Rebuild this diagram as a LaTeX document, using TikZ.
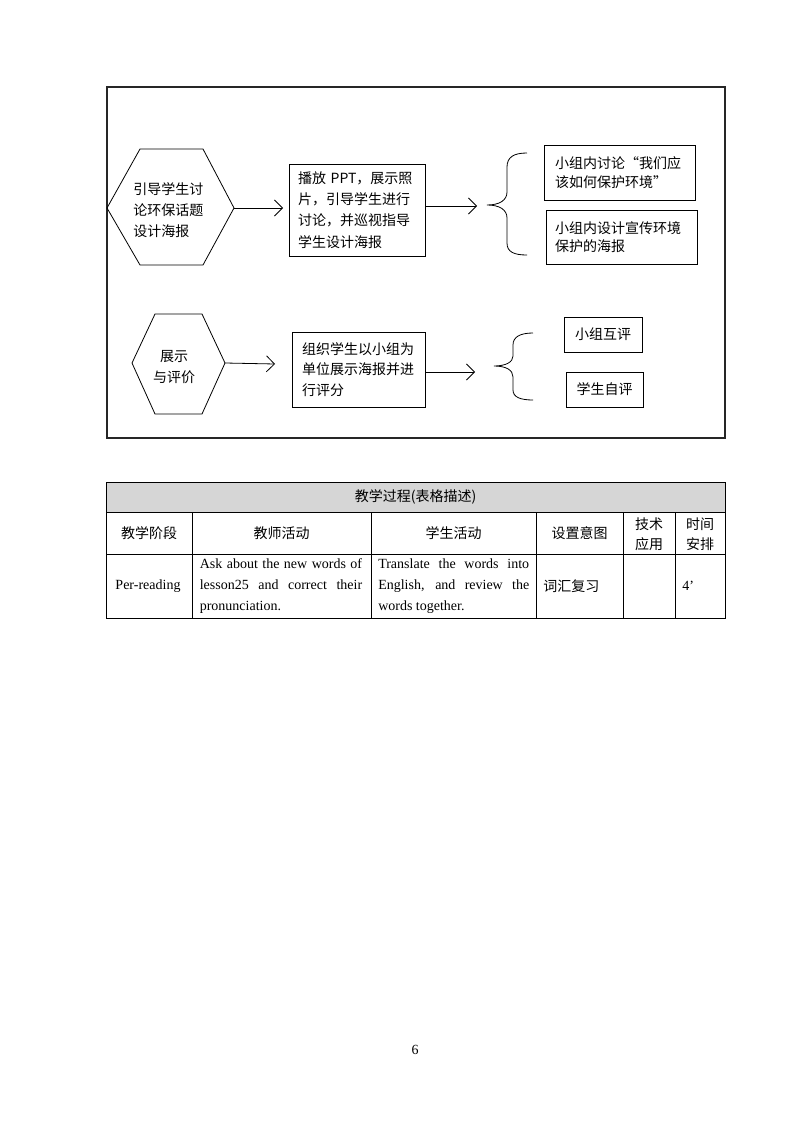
\documentclass[tikz,border=0pt]{standalone}
\usepackage{fontspec}
\setmainfont{Liberation Serif}
\newfontfamily\cjk{Noto Sans CJK SC}
\usetikzlibrary{arrows.meta}
\newcommand\dgfont{\cjk\fontsize{10.5}{16}\selectfont}
\newcommand\enfont{\fontsize{10.5}{15.75}\selectfont}
\tikzset{
  frame/.style={draw=black!85, line width=0.8pt},
  shapeline/.style={draw=black, line width=0.6pt},
  box/.style={draw=black, line width=0.6pt, inner ysep=0pt, font=\dgfont, align=left},
  txt/.style={font=\dgfont, align=left, inner sep=0pt},
  ctxt/.style={font=\dgfont, align=center, inner sep=0pt},
  entxt/.style={font=\enfont, align=left, inner sep=0pt},
  conn/.style={-{Straight Barb[length=6pt,width=12pt]}, line width=0.6pt},
  grid/.style={draw=black, line width=0.6pt},
}
\begin{document}
\begin{tikzpicture}[x=0.75pt,y=-0.75pt]
\useasboundingbox (0,0) rectangle (794,1123);
% outer frame
\draw[frame] (107,87) rectangle (725,438);

% hexagon 1
\coordinate (h1l) at (107,208);
\coordinate (h1r) at (234,208);
\draw[shapeline] (h1l) -- (140,149) -- (203,149) -- (h1r) -- (203,265) -- (140,265) -- cycle;
\node[txt, anchor=west] (h1t) at (133,210) {引导学生讨\\论环保话题\\设计海报};

% box 1
\node[box, minimum width=102pt, minimum height=69pt, inner xsep=6.75pt, text width=88.5pt] (b1) at (357,210)
  {播放 PPT，展示照\\片，引导学生进行\\讨论，并巡视指导\\学生设计海报};

\coordinate (a1e) at (283,208);
\draw[conn] (h1r) -- (a1e);

\coordinate (a2e) at (477,206);
\draw[conn] (b1.east |- a2e) -- (a2e);

% brace 1
\coordinate (br1) at (487,205);
\draw[shapeline] (527,153) .. controls (514,153) and (507,157) .. (507,167) -- (507,192)
  .. controls (507,200) and (500,205) .. (br1)
  .. controls (500,205) and (507,210) .. (507,218) -- (507,243)
  .. controls (507,252) and (514,255) .. (527,255);

% boxes 2
\node[box, minimum width=113.25pt, minimum height=41.25pt, inner xsep=8.25pt, text width=96.75pt, font=\cjk\fontsize{10.5}{14}\selectfont] (b2a) at (619.5,172.5)
  {小组内讨论“我们应\\该如何保护环境”};
\node[box, minimum width=113.25pt, minimum height=40.5pt, inner xsep=6.75pt, text width=99.75pt, font=\cjk\fontsize{10.5}{14}\selectfont] (b2b) at (621.5,237)
  {小组内设计宣传环境\\保护的海报};

% hexagon 2
\coordinate (h2l) at (132,363);
\coordinate (h2r) at (225,363);
\draw[shapeline] (h2l) -- (155,314) -- (202,314) -- (h2r) -- (202,414) -- (155,414) -- cycle;
\node[ctxt] (h2t) at (174,367) {展示\\与评价};

% box 3
\node[box, minimum width=99.75pt, minimum height=56.25pt, inner xsep=7.5pt, text width=84.75pt, font=\cjk\fontsize{10.5}{15.5}\selectfont] (b3) at (358.5,369.5)
  {组织学生以小组为\\单位展示海报并进\\行评分};

\coordinate (a3e) at (275,364);
\draw[conn] (h2r) -- (a3e);

\coordinate (a4e) at (475,372);
\draw[conn] (b3.east |- a4e) -- (a4e);

% brace 2
\coordinate (br2) at (494,366);
\draw[shapeline] (533,333) .. controls (520,333) and (513,337) .. (513,345) -- (513,356)
  .. controls (513,362) and (506,366) .. (br2)
  .. controls (506,366) and (513,370) .. (513,377) -- (513,390)
  .. controls (513,397) and (520,400) .. (533,400);

% boxes 4
\node[box, minimum width=58.5pt, minimum height=26.25pt, align=center] (b4a) at (603,334.5) {小组互评};
\node[box, minimum width=57.75pt, minimum height=26.25pt, align=center] (b4b) at (604.5,389.5) {学生自评};

% table
\fill[black!16] (106,482) rectangle (725,512);
\draw[grid] (106,482) rectangle (725,618);
\draw[grid] (106,512) -- (725,512);
\draw[grid] (106,554) -- (725,554);
\foreach \x in {192,371,536,623,675} \draw[grid] (\x,512) -- (\x,618);

\node[ctxt] (t0) at (415.5,497) {教学过程(表格描述)};
\node[ctxt] (t11) at (149,533) {教学阶段};
\node[ctxt] (t12) at (281.5,533) {教师活动};
\node[ctxt] (t13) at (453.5,533) {学生活动};
\node[ctxt] (t14) at (579.5,533) {设置意图};
\node[ctxt, font=\cjk\fontsize{10.5}{15}\selectfont] (t15) at (649,534) {技术\\应用};
\node[ctxt, font=\cjk\fontsize{10.5}{15}\selectfont] (t16) at (700,534) {时间\\安排};

\node[entxt, align=center] (t21) at (148,586) {Per-reading};
\node[entxt, anchor=west] (t22) at (199.5,586)
  {\makebox[121.8pt][s]{Ask about the new words of}\\
   \makebox[121.8pt][s]{lesson25 and correct their}\\
   pronunciation.};
\node[entxt, anchor=west] (t23) at (378,586)
  {\makebox[113.2pt][s]{Translate the words into}\\
   \makebox[113.2pt][s]{English, and review the}\\
   words together.};
\node[txt, anchor=west] (t24) at (543,586) {词汇复习};
\node[entxt, anchor=west] (t26) at (682,586) {4’};

% page number
\node[entxt] (pg) at (415,1050) {6};
\end{tikzpicture}
\end{document}
